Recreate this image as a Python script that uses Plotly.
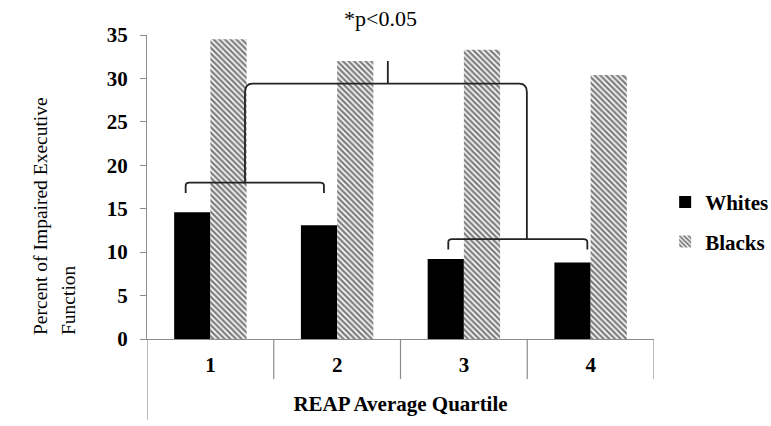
import plotly.graph_objects as go

categories = ["1", "2", "3", "4"]
whites = [14.6, 13.1, 9.2, 8.8]
blacks = [34.5, 32.0, 33.3, 30.4]
y_ticks = [0, 5, 10, 15, 20, 25, 30, 35]

FONT = "Liberation Serif"
xpos = list(range(len(categories)))

fig = go.Figure()
fig.add_trace(go.Bar(
    x=xpos, y=whites, name="Whites", legendgroup="w",
    marker=dict(color="black", line=dict(width=0)),
))
fig.add_trace(go.Bar(
    x=xpos, y=blacks, name="Blacks", legendgroup="b",
    marker=dict(color="white", line=dict(width=0),
                pattern=dict(shape="\\", fgcolor="#000000", bgcolor="white",
                             size=4, solidity=0.6)),
))

W, H = 771, 426
ml, mr, mt, mb = 147, 117, 35, 87
pw = W - ml - mr
ph = H - mt - mb

fig.update_layout(
    width=W, height=H,
    margin=dict(l=ml, r=mr, t=mt, b=mb, pad=0, autoexpand=False),
    paper_bgcolor="white", plot_bgcolor="white",
    barmode="group", bargap=0.4286, bargroupgap=0,
    font=dict(family=FONT, color="black", size=20),
    showlegend=True,
    legend=dict(x=1.022, y=0.385, xanchor="left", yanchor="middle",
                font=dict(family=FONT, size=21, color="black", weight="bold"),
                itemsizing="constant", tracegroupgap=9, itemwidth=30),
    xaxis=dict(range=[-0.5, 3.5], tickvals=xpos, ticktext=categories,
               showgrid=False, zeroline=False, showline=True,
               linecolor="#8c8c8c", linewidth=1.2, ticks="",
               tickfont=dict(family=FONT, size=21, weight="bold"),
               ticklabelstandoff=7, automargin=False,
               title=dict(text="REAP Average Quartile", standoff=20,
                          font=dict(family=FONT, size=21, weight="bold"))),
    yaxis=dict(range=[0, 35], tickvals=y_ticks, showgrid=False, zeroline=False,
               showline=True, linecolor="#8c8c8c", linewidth=1.2,
               ticks="outside", ticklen=6, tickcolor="#8c8c8c",
               tickfont=dict(family=FONT, size=21, weight="bold"),
               ticklabelstandoff=8, automargin=False),
)

# y-axis title: two lines, both starting near the bottom of the plot
yt_lines = ["Percent of Impaired Executive", "Function"]
yt_xpix = [40, 68]
for txt, xp in zip(yt_lines, yt_xpix):
    fig.add_annotation(text=txt, xref="paper", yref="paper",
                       x=(xp - ml) / pw, y=2 / ph, xanchor="center", yanchor="bottom",
                       textangle=-90, showarrow=False,
                       font=dict(family=FONT, size=19.5, color="black"))

# category separators and extended axis line below the plot
sep_y = -(379 - 339) / ph
left_y = -(420 - 339) / ph
for k in range(1, len(categories) + 1):
    fig.add_shape(type="line", xref="x", yref="paper", x0=k - 0.5, x1=k - 0.5,
                  y0=0, y1=sep_y, line=dict(color="#8c8c8c", width=1.2))
fig.add_shape(type="line", xref="x", yref="paper", x0=-0.5, x1=-0.5,
              y0=0, y1=left_y, line=dict(color="#8c8c8c", width=1.2))

bl = dict(color="#222222", width=1.8)

def bracket(x0, x1, y, y0_end, y1_end, r=0.03, ry=0.35):
    p = (f"M {x0},{y0_end} L {x0},{y - ry} Q {x0},{y} {x0 + r},{y} "
         f"L {x1 - r},{y} Q {x1},{y} {x1},{y - ry} L {x1},{y1_end}")
    fig.add_shape(type="path", xref="x", yref="y", path=p, line=bl)

# left bracket (quartiles 1-2, whites)
bracket(-0.195, 0.896, 18.0, 16.8, 16.8)
# right bracket (quartiles 3-4, whites)
bracket(1.877, 2.974, 11.5, 10.3, 10.3)
# big bracket joining the two
bracket(0.273, 2.497, 29.4, 18.0, 11.5, r=0.06, ry=1.0)
# center tick
fig.add_shape(type="line", xref="x", yref="y", x0=1.40, x1=1.40, y0=29.4, y1=32.0, line=bl)

fig.add_annotation(text="*p<0.05", xref="x", yref="paper", x=1.34, y=1.0,
                   yanchor="middle", yshift=17, showarrow=False,
                   font=dict(family=FONT, size=22, color="black"))

fig.write_html("out.html", config={"displayModeBar": False},
               post_script="document.body.style.margin='0';document.body.style.padding='0';")
